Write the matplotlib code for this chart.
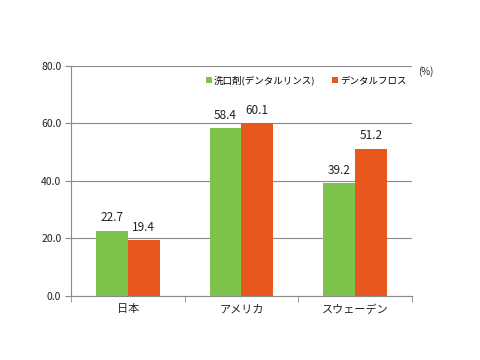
import matplotlib
matplotlib.use("Agg")
import matplotlib.pyplot as plt
import numpy as np

categories = ["日本", "アメリカ", "スウェーデン"]
series_names = ["洗口剤(デンタルリンス)", "デンタルフロス"]
rinse = [22.7, 58.4, 39.2]
floss = [19.4, 60.1, 51.2]
yticks = [0, 20, 40, 60, 80]

plt.rcParams['font.family'] = ['Noto Sans CJK JP', 'DejaVu Sans']

fig = plt.figure(figsize=(4.8, 3.6), dpi=100)
ax = fig.add_axes([0.148, 0.178, 0.71, 0.639])

x = np.arange(len(categories))
w = 0.28
green = "#7DC24A"
orange = "#E8581E"
b1 = ax.bar(x - w/2, rinse, w, color=green, label=series_names[0], zorder=3)
b2 = ax.bar(x + w/2, floss, w, color=orange, label=series_names[1], zorder=3)

for bars, vals in ((b1, rinse), (b2, floss)):
    for r, v in zip(bars, vals):
        ax.text(r.get_x() + r.get_width()/2, v + 2.2, f"{v:.1f}", ha="center", va="bottom",
                fontsize=8.5, color="#222222")

ax.set_xlim(-0.5, 2.5)
ax.set_ylim(0, 80)
ax.set_yticks(yticks)
ax.set_yticklabels([f"{v:.1f}" for v in yticks], fontsize=7.5, color="#222222")
ax.yaxis.grid(True, color="#8a8a8a", linewidth=0.8, zorder=0)
ax.set_axisbelow(True)

ax.set_xticks(x)
ax.set_xticklabels(categories, fontsize=8, color="#222222")
ax.tick_params(axis="x", length=0, pad=6)
ax.set_xticks([-0.5, 0.5, 1.5, 2.5], minor=True)
ax.tick_params(axis="x", which="minor", length=4, color="#8a8a8a")
ax.tick_params(axis="y", length=4, color="#8a8a8a", pad=3)

for s in ("top", "right"):
    ax.spines[s].set_visible(False)
for s in ("left", "bottom"):
    ax.spines[s].set_color("#8a8a8a")
    ax.spines[s].set_linewidth(0.8)

leg = ax.legend(loc="upper right", bbox_to_anchor=(0.995, 0.975), ncol=2, frameon=False,
                fontsize=6.8, handlelength=0.6, handleheight=0.6, handletextpad=0.2,
                columnspacing=1.8, borderaxespad=0)
fig.text(0.872, 0.785, "(%)", fontsize=7, color="#222222", ha="left", va="bottom")

fig.savefig("out.png", dpi=100, facecolor="white")
